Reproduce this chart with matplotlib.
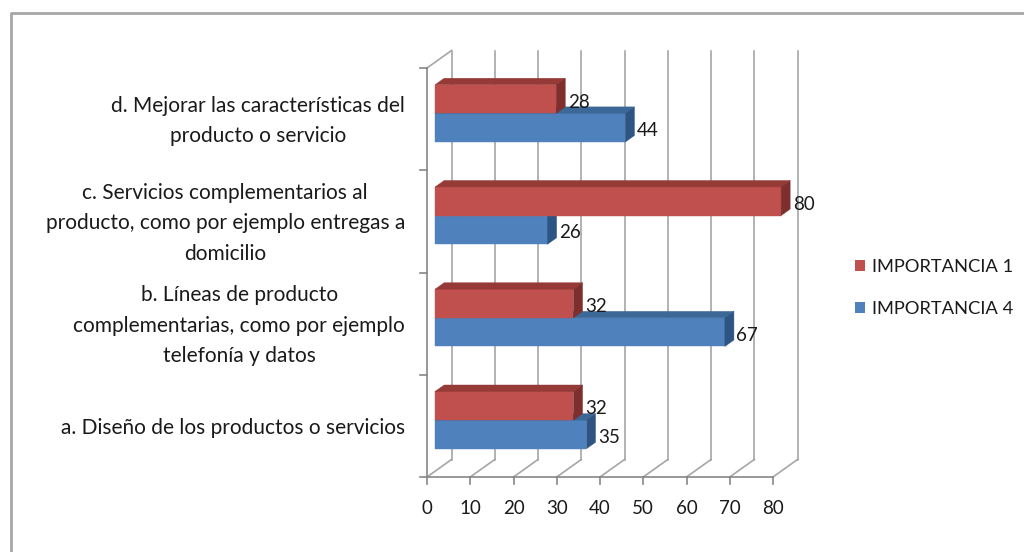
import matplotlib.pyplot as plt
from matplotlib.patches import Polygon, Patch
from matplotlib.lines import Line2D

plt.rcParams['font.family'] = ['Lato', 'DejaVu Sans']

categories = [
    "a. Diseño de los productos o servicios",
    "b. Líneas de producto\ncomplementarias, como por ejemplo\ntelefonía y datos",
    "c. Servicios complementarios al\nproducto, como por ejemplo entregas a\ndomicilio",
    "d. Mejorar las características del\nproducto o servicio",
]
importancia_1 = [32, 32, 80, 28]
importancia_4 = [35, 67, 26, 44]
series_names = ["IMPORTANCIA 1", "IMPORTANCIA 4"]
x_ticks = [0, 10, 20, 30, 40, 50, 60, 70, 80]

W, H = 1024, 552
fig = plt.figure(figsize=(W / 100, H / 100), dpi=100)
fig.patch.set_facecolor('white')

# front plane of the 3-D box
ax_l, ax_b, ax_w, ax_h = 427, 477, 346, 409
ax = fig.add_axes([ax_l / W, (H - ax_b) / H, ax_w / W, ax_h / H])
ax.set_xlim(0, 80)
ax.set_ylim(0, len(categories))
ax.axis('off')

ux = 80 / ax_w            # data units per pixel, x
uy = len(categories) / ax_h  # data units per pixel, y
DX, DY = 24.5 * ux, 17.5 * uy  # depth of the box
F0, F1 = 0.33, 0.70       # bar front / back as fraction of depth
BAR_H = 0.28

grid_c = '#A6A6A6'
axis_c = '#868686'
text_c = '#1a1a1a'
FS_CAT = 15
FS_NUM = 13.5
FS_LEG = 13.2


def line(xs, ys, color, lw=1.2):
    ax.add_line(Line2D(xs, ys, color=color, lw=lw, clip_on=False, zorder=1))


# back wall gridlines and floor
for t in x_ticks:
    line([t + DX, t + DX], [DY, len(categories) + DY], grid_c)
    line([t, t + DX], [0, DY], grid_c)
# side wall top edge
line([0, DX], [len(categories), len(categories) + DY], grid_c)

# front axes
line([0, 80], [0, 0], axis_c)
line([0, 0], [0, len(categories)], axis_c)
for t in x_ticks:
    line([t, t], [0, -7 * uy], axis_c)
    ax.text(t, -32 * uy, str(t), ha='center', va='center', fontsize=FS_NUM, color=text_c)
for k in range(len(categories) + 1):
    line([-7 * ux, 0], [k, k], axis_c)


def bar3d(v, y0, y1, front, top, side):
    ox0, oy0 = F0 * DX, F0 * DY
    ox1, oy1 = F1 * DX, F1 * DY
    faces = [
        ([(ox0, y0 + oy0), (v + ox0, y0 + oy0), (v + ox0, y1 + oy0), (ox0, y1 + oy0)], front),
        ([(ox0, y1 + oy0), (v + ox0, y1 + oy0), (v + ox1, y1 + oy1), (ox1, y1 + oy1)], top),
        ([(v + ox0, y0 + oy0), (v + ox1, y0 + oy1), (v + ox1, y1 + oy1), (v + ox0, y1 + oy0)], side),
    ]
    for pts, c in faces:
        ax.add_patch(Polygon(pts, closed=True, facecolor=c, edgecolor=c, lw=0.3,
                             clip_on=False, zorder=3))
    ax.text(v + ox1 + 2.5 * ux, (y0 + y1) / 2 + oy0 - 3 * uy, str(v),
            ha='left', va='center', fontsize=FS_NUM, color=text_c, zorder=4)


red = ('#C0504D', '#963A37', '#7E2F2D')
blue = ('#4F81BD', '#3C6898', '#2D5483')

for i in range(len(categories)):
    c = i + 0.5
    bar3d(importancia_4[i], c - BAR_H, c, *blue)
    bar3d(importancia_1[i], c, c + BAR_H, *red)
    ax.text(-22 * ux, c - 2 * uy, categories[i], ha='right', va='center',
            multialignment='center', fontsize=FS_CAT, color=text_c, linespacing=1.66)

handles = [Patch(facecolor=red[0]), Patch(facecolor=blue[0])]
fig.legend(handles, series_names, loc='center left', bbox_to_anchor=(838 / W, 1 - 288 / H),
           frameon=False, fontsize=FS_LEG, handlelength=0.55, handleheight=0.55,
           handletextpad=0.4, labelspacing=1.45, labelcolor=text_c)

# outer frame: top and left edges
fig.add_artist(Line2D([11 / W, 11 / W, 1], [0, 1 - 13 / H, 1 - 13 / H],
                      transform=fig.transFigure, color='#A6A6A6', lw=2))

fig.savefig('out.png', dpi=100, facecolor='white')
